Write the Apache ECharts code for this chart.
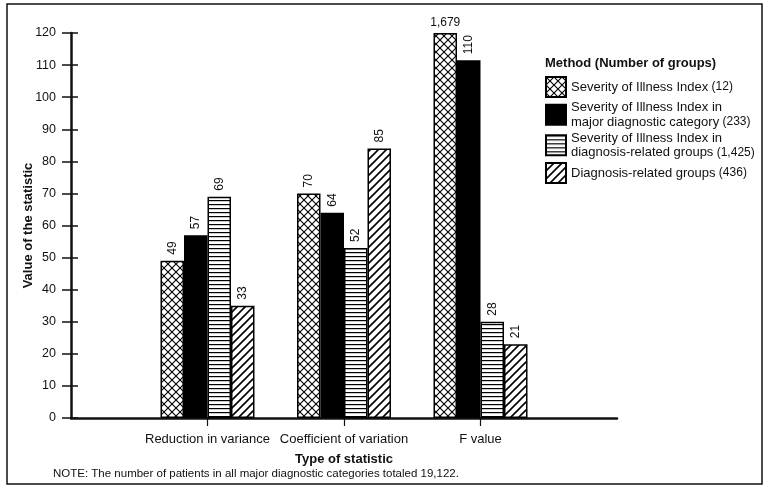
<!DOCTYPE html>
<html>
<head>
<meta charset="utf-8">
<script src="https://cdn.jsdelivr.net/npm/echarts@6/dist/echarts.min.js"></script>
<style>
  html, body { margin: 0; padding: 0; background: #fff; }
  #chart { width: 768px; height: 488px; }
</style>
</head>
<body>
<div id="chart"></div>
<script>
// categories on the x axis (placed at 1, 2, 3 of a 0..4 value axis)
var categories = ['Reduction in variance', 'Coefficient of variation', 'F value'];
var categoryPos = [1, 2, 3];
var yTicks = [0, 120, 10]; // min, max, step

// legend / series names
var methodNames = [
  'Severity of Illness Index (12)',
  'Severity of Illness Index in major diagnostic category (233)',
  'Severity of Illness Index in diagnosis-related groups (1,425)',
  'Diagnosis-related groups (436)'
];

// bar heights as drawn, and the printed labels
var sevIndex = [49, 70, 120];
var sevIndexLabels = ['49', '70', '1,679'];
var sevMdc = [57, 64, 111.5];
var sevMdcLabels = ['57', '64', '110'];
var sevDrg = [69, 53, 30];
var sevDrgLabels = ['69', '52', '28'];
var drg = [35, 84, 23];
var drgLabels = ['33', '85', '21'];

var font = "'Liberation Sans', Arial, Helvetica, sans-serif";

// pattern tiles
function tile(size, draw) {
  var c = document.createElement('canvas');
  c.width = size; c.height = size;
  var ctx = c.getContext('2d');
  ctx.fillStyle = '#fff';
  ctx.fillRect(0, 0, size, size);
  ctx.strokeStyle = '#000';
  draw(ctx, size);
  return c;
}
var crossTile = tile(8, function (ctx, s) {
  ctx.lineWidth = 1.1;
  ctx.beginPath();
  ctx.moveTo(-1, -1); ctx.lineTo(s + 1, s + 1);
  ctx.moveTo(s + 1, -1); ctx.lineTo(-1, s + 1);
  ctx.stroke();
});
var lineTile = tile(4, function (ctx, s) {
  ctx.lineWidth = 1.2;
  ctx.beginPath();
  ctx.moveTo(0, 0.6); ctx.lineTo(s, 0.6);
  ctx.stroke();
});
var hatchTile = tile(8, function (ctx, s) {
  ctx.lineWidth = 1.6;
  ctx.beginPath();
  ctx.moveTo(-2, s + 2); ctx.lineTo(s + 2, -2);
  ctx.moveTo(-2, 2); ctx.lineTo(2, -2);
  ctx.moveTo(s - 2, s + 2); ctx.lineTo(s + 2, s - 2);
  ctx.stroke();
});

var fills = [
  { image: crossTile, repeat: 'repeat' },
  '#000',
  { image: lineTile, repeat: 'repeat' },
  { image: hatchTile, repeat: 'repeat' }
];
var values = [sevIndex, sevMdc, sevDrg, drg];
var labels = [sevIndexLabels, sevMdcLabels, sevDrgLabels, drgLabels];

var legendText = {};
legendText[methodNames[0]] = '{a|Severity of Illness Index} {b|(12)}';
legendText[methodNames[1]] = '{a|Severity of Illness Index in}\n{a|major diagnostic category} {b|(233)}';
legendText[methodNames[2]] = '{a|Severity of Illness Index in}\n{a|diagnosis-related groups} {b|(1,425)}';
legendText[methodNames[3]] = '{a|Diagnosis-related groups} {b|(436)}';

var series = [];
for (var s = 0; s < 4; s++) {
  (function (s) {
    var data = [];
    for (var i = 0; i < categories.length; i++) {
      var item = { value: [categoryPos[i], values[s][i]] };
      if (labels[s][i] === '1,679') {
        item.label = { rotate: 0, align: 'center', verticalAlign: 'bottom', distance: 4 };
      }
      data.push(item);
    }
    series.push({
      name: methodNames[s],
      type: 'bar',
      barWidth: 23.5,
      barGap: '0%',
      data: data,
      itemStyle: { color: fills[s], borderColor: '#000', borderWidth: 1.5 },
      emphasis: { disabled: true },
      label: {
        show: true,
        position: 'top',
        rotate: 90,
        align: 'left',
        verticalAlign: 'middle',
        distance: 6,
        fontFamily: font,
        fontSize: 12,
        color: '#111',
        formatter: function (p) { return labels[s][p.dataIndex]; }
      }
    });
  })(s);
}

var myChart = echarts.init(document.getElementById('chart'));
var option = {
  animation: false,
  backgroundColor: '#fff',
  title: {
    text: 'Method (Number of groups)',
    left: 540,
    top: 52,
    textStyle: { fontFamily: font, fontSize: 13, fontWeight: 'bold', color: '#111' }
  },
  legend: {
    orient: 'vertical',
    left: 540,
    top: 71,
    itemWidth: 20,
    itemHeight: 20,
    itemGap: 3,
    icon: 'rect',
    selectedMode: false,
    data: methodNames,
    formatter: function (name) { return legendText[name]; },
    textStyle: {
      fontFamily: font,
      color: '#111',
      rich: {
        a: { fontFamily: font, fontSize: 13, lineHeight: 14.5, color: '#111' },
        b: { fontFamily: font, fontSize: 12, lineHeight: 14.5, color: '#111' }
      }
    }
  },
  grid: { left: 71, right: 151, top: 33, bottom: 70 },
  xAxis: {
    type: 'value',
    min: 0,
    max: 4,
    interval: 1,
    name: 'Type of statistic',
    nameLocation: 'middle',
    nameGap: 35,
    nameTextStyle: { fontFamily: font, fontSize: 13, fontWeight: 'bold', color: '#111' },
    axisLine: { show: true, lineStyle: { color: '#111', width: 2.5 } },
    axisTick: { show: true, customValues: categoryPos, length: 8, lineStyle: { color: '#111', width: 1.2 } },
    axisLabel: {
      customValues: categoryPos,
      margin: 15,
      fontFamily: font,
      fontSize: 13,
      color: '#111',
      formatter: function (v) { return categories[categoryPos.indexOf(v)] || ''; }
    },
    splitLine: { show: false }
  },
  yAxis: [{
    type: 'value',
    position: 'left',
    min: yTicks[0],
    max: yTicks[1],
    interval: yTicks[2],
    name: 'Value of the statistic',
    nameLocation: 'middle',
    nameGap: 36,
    nameMoveOverlap: false,
    nameTextStyle: { fontFamily: font, fontSize: 13, fontWeight: 'bold', color: '#111' },
    axisLine: { show: true, lineStyle: { color: '#111', width: 2.5 } },
    axisTick: { show: true, length: 9, lineStyle: { color: '#111', width: 1.5 } },
    axisLabel: { margin: 15, fontFamily: font, fontSize: 12.5, color: '#111' },
    splitLine: { show: false }
  }, {
    type: 'value',
    position: 'left',
    min: yTicks[0],
    max: yTicks[1],
    interval: yTicks[2],
    axisLine: { show: false },
    axisTick: { show: true, inside: true, length: 7, lineStyle: { color: '#111', width: 1.5 } },
    axisLabel: { show: false },
    splitLine: { show: false }
  }],
  graphic: [{
    type: 'rect',
    shape: { x: 7, y: 4, width: 755, height: 480 },
    style: { fill: 'none', stroke: '#111', lineWidth: 1.5 },
    silent: true
  }, {
    type: 'text',
    left: 53,
    top: 468,
    style: {
      text: 'NOTE: The number of patients in all major diagnostic categories totaled 19,122.',
      fontFamily: font,
      fontSize: 11.5,
      fill: '#111'
    }
  }],
  series: series
};
myChart.setOption(option);
</script>
</body>
</html>
